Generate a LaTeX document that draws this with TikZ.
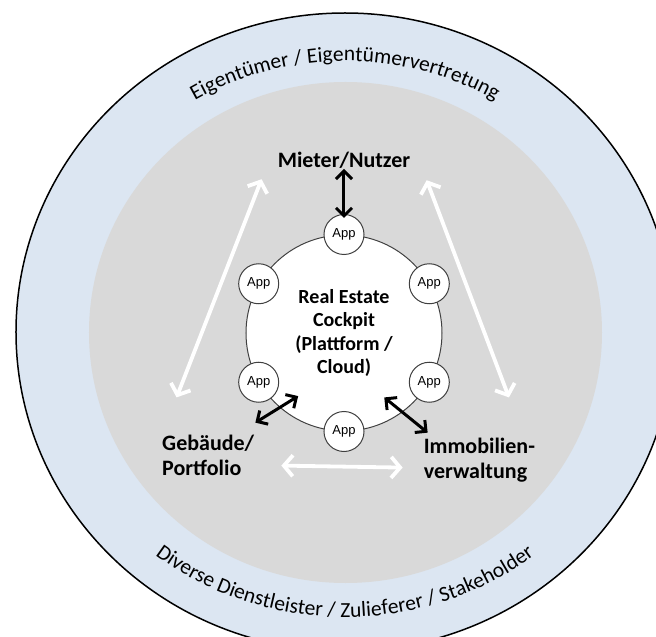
\documentclass[tikz,border=0pt]{standalone}
\usepackage{fontspec}
\setmainfont{Carlito}
\newfontfamily\appfont{Liberation Sans}
\usetikzlibrary{positioning}
\usetikzlibrary{arrows.meta}
\usetikzlibrary{decorations.text}
\definecolor{ringblue}{HTML}{DCE6F2}
\definecolor{innergray}{HTML}{D9D9D9}
\definecolor{rimgray}{HTML}{404040}

\begin{document}
\begin{tikzpicture}[x=1pt, y=1pt,
  app/.style={draw=rimgray, circle, fill=white, line width=1pt, minimum size=40pt, inner sep=0pt, font=\appfont\fontsize{13}{13}\selectfont},
  lbl/.style={font=\bfseries\fontsize{22}{25}\selectfont, inner sep=0pt, align=left},
  dark/.style={{Straight Barb[length=8pt,width=16pt]}-{Straight Barb[length=8pt,width=16pt]}, line width=3pt, black},
  light/.style={{Straight Barb[length=9pt,width=21pt]}-{Straight Barb[length=9pt,width=21pt]}, line width=3.8pt, white}]
\useasboundingbox (-344,-304) rectangle (312,333);
\clip (-344,-304) rectangle (312,333);
\filldraw[fill=ringblue, draw=black, line width=1.5pt](1,1) ellipse [x radius=329, y radius=319];
\fill[innergray](1.5,0.5) ellipse [x radius=256.5, y radius=250.5];
\path[decorate, decoration={text along path, text align=center,
  text={|\fontsize{21.5}{21.5}\selectfont|Eigentümer / Eigentümervertretung}}]
  (1,1) ++(150:289 and 271) arc[start angle=150, end angle=30, x radius=289, y radius=271];
\path[decorate, decoration={text along path, text align=center,
  text={|\fontsize{21.5}{21.5}\selectfont|Diverse Dienstleister / Zulieferer / Stakeholder}}]
  (1,1) ++(205:305 and 285) arc[start angle=205, end angle=335, x radius=305, y radius=285];
\node[draw=rimgray, circle, fill=white, line width=1pt, minimum size=196pt, inner sep=0pt, align=center,
  font=\bfseries\fontsize{20}{23.5}\selectfont](cockpit) at (0,0){Real Estate\\Cockpit\\(Plattform /\\Cloud)};
\node[app](app1) at (cockpit.90){App};
\node[app](app2) at (cockpit.30){App};
\node[app](app3) at (cockpit.330){App};
\node[app](app4) at (cockpit.270){App};
\node[app](app5) at (cockpit.210){App};
\node[app](app6) at (cockpit.150){App};
\node[lbl](mieter)[above=45pt of app1]{Mieter/Nutzer};
\node[lbl](gebaeude)[below left=32pt and 20pt of cockpit]{Gebäude/\\Portfolio};
\node[lbl](immo)[below right=35pt and 10pt of cockpit]{Immobilien-\\verwaltung};
\draw[dark, shorten >=-4pt](mieter)--(app1);
\draw[dark]([shift={(1pt,12pt)}]gebaeude.north east)--([shift={(234:78pt)}]cockpit.center);
\draw[dark]([shift={(4pt,5pt)}]immo.north west)--([shift={(302:76pt)}]cockpit.center);
\draw[light, shorten <=40pt, shorten >=11pt](gebaeude.north west)--([xshift=-12pt]mieter.south west);
\draw[light, shorten <=12pt, shorten >=43pt]([xshift=12pt]mieter.south east)--([xshift=-11pt]immo.north east);
\draw[light, shorten <=27pt, shorten >=21pt]([yshift=-10pt]gebaeude.east)--([yshift=-8pt]immo.west);
\end{tikzpicture}
\end{document}
